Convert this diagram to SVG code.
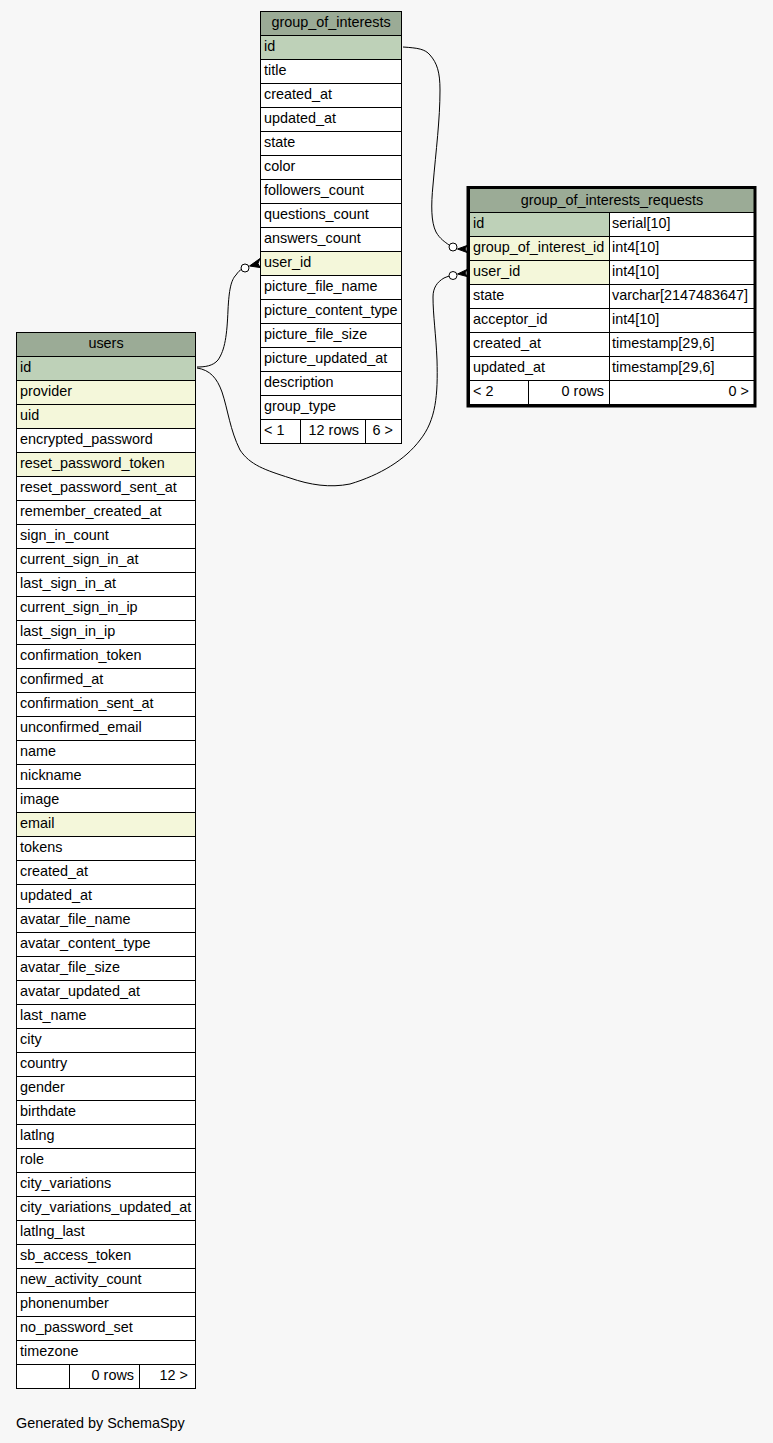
<svg xmlns="http://www.w3.org/2000/svg" width="773" height="1443" viewBox="0 0 773 1443">
<style>
text{font-family:"Liberation Sans",Arial,Helvetica,sans-serif;font-size:14.4px;fill:#000}
.t{text-anchor:middle}
.e{text-anchor:end}
.box{fill:#fff;stroke:#000;stroke-width:1}
.hd{fill:#9bab96}
.pk{fill:#bed1b8}
.fk{fill:#f4f7da}
.ln{fill:none;stroke:#000;stroke-width:1}
.edge{fill:none;stroke:#000;stroke-width:1}
.dot{fill:#fff;stroke:#000;stroke-width:1}
.crow{fill:#000;stroke:#000;stroke-width:1}
</style>
<rect width="773" height="1443" fill="#f7f7f7"/>

<g id="connectors">
<path class="edge" d="M403,47 C418,48 425,49 430,55 C437,63 440,72 440,90 C440,120 436,150 433,185 C431,205 431,222 436,232 C440,239 445,242 449,245"/>
<circle class="dot" cx="453" cy="247" r="4"/>
<polygon class="crow" points="457.5,249 467,245.5 465,249 467,252.5"/>
<path class="edge" d="M197,367 C205,367 213,366 218,360 C225,350 227,335 228,310 C229,290 231,280 236,275 C238,272 240,270 241.5,269.5"/>
<circle class="dot" cx="245" cy="268" r="4"/>
<polygon class="crow" points="249.5,266 260,258.5 258,263.5 260,267.5"/>
<path class="edge" d="M197,368 C210,370 217,378 222,392 C228,410 230,430 240,450 C250,465 265,470 290,478 C310,485 330,488 350,484 C380,475 405,460 420,440 C436,420 438,395 437,360 C436,335 433,315 433,297 C433,288 437,282 444,278 C446,277 448,276.5 449.5,276"/>
<circle class="dot" cx="453" cy="275.5" r="4"/>
<polygon class="crow" points="457.5,274 467,269.5 465,273 467,276.5"/>
</g>

<g id="group_of_interests">
<rect class="box" x="260.5" y="11.5" width="141" height="432"/>
<rect class="hd" x="261" y="12" width="140" height="23"/>
<rect class="pk" x="261" y="36" width="140" height="23"/>
<rect class="fk" x="261" y="252" width="140" height="23"/>
<path class="ln" d="M260.5 35.5H401.5M260.5 59.5H401.5M260.5 83.5H401.5M260.5 107.5H401.5M260.5 131.5H401.5M260.5 155.5H401.5M260.5 179.5H401.5M260.5 203.5H401.5M260.5 227.5H401.5M260.5 251.5H401.5M260.5 275.5H401.5M260.5 299.5H401.5M260.5 323.5H401.5M260.5 347.5H401.5M260.5 371.5H401.5M260.5 395.5H401.5M260.5 419.5H401.5M300.5 419.5V443.5M365.5 419.5V443.5"/>
<text class="t" x="331" y="27">group_of_interests</text>
<text x="264" y="50.5">id</text>
<text x="264" y="74.5">title</text>
<text x="264" y="98.5">created_at</text>
<text x="264" y="122.5">updated_at</text>
<text x="264" y="146.5">state</text>
<text x="264" y="170.5">color</text>
<text x="264" y="194.5">followers_count</text>
<text x="264" y="218.5">questions_count</text>
<text x="264" y="242.5">answers_count</text>
<text x="264" y="266.5">user_id</text>
<text x="264" y="290.5">picture_file_name</text>
<text x="264" y="314.5">picture_content_type</text>
<text x="264" y="338.5">picture_file_size</text>
<text x="264" y="362.5">picture_updated_at</text>
<text x="264" y="386.5">description</text>
<text x="264" y="410.5">group_type</text>
<text x="264" y="434.5">&lt; 1</text>
<text class="e" x="359" y="434.5">12 rows</text>
<text class="e" x="393" y="434.5">6 &gt;</text>
</g>

<g id="group_of_interests_requests">
<rect class="box" x="469.5" y="188.5" width="285" height="216"/>
<rect class="hd" x="470" y="189" width="284" height="23"/>
<rect class="pk" x="470" y="213" width="139" height="23"/>
<rect class="fk" x="470" y="237" width="139" height="23"/>
<rect class="fk" x="470" y="261" width="139" height="23"/>
<path class="ln" d="M469.5 212.5H754.5M469.5 236.5H754.5M469.5 260.5H754.5M469.5 284.5H754.5M469.5 308.5H754.5M469.5 332.5H754.5M469.5 356.5H754.5M469.5 380.5H754.5M609.5 212.5V404.5M528.5 380.5V404.5"/>
<rect x="468" y="187.5" width="287" height="218.5" fill="none" stroke="#000" stroke-width="3"/>
<text class="t" x="612" y="204.5">group_of_interests_requests</text>
<text x="473" y="227.5">id</text>
<text x="612" y="227.5">serial[10]</text>
<text x="473" y="251.5">group_of_interest_id</text>
<text x="612" y="251.5">int4[10]</text>
<text x="473" y="275.5">user_id</text>
<text x="612" y="275.5">int4[10]</text>
<text x="473" y="299.5">state</text>
<text x="612" y="299.5">varchar[2147483647]</text>
<text x="473" y="323.5">acceptor_id</text>
<text x="612" y="323.5">int4[10]</text>
<text x="473" y="347.5">created_at</text>
<text x="612" y="347.5">timestamp[29,6]</text>
<text x="473" y="371.5">updated_at</text>
<text x="612" y="371.5">timestamp[29,6]</text>
<text x="473" y="395.5">&lt; 2</text>
<text class="e" x="604" y="395.5">0 rows</text>
<text class="e" x="749" y="395.5">0 &gt;</text>
</g>

<g id="users">
<rect class="box" x="16.5" y="332.5" width="179" height="1056"/>
<rect class="hd" x="17" y="333" width="178" height="23"/>
<rect class="pk" x="17" y="357" width="178" height="23"/>
<rect class="fk" x="17" y="381" width="178" height="23"/>
<rect class="fk" x="17" y="405" width="178" height="23"/>
<rect class="fk" x="17" y="453" width="178" height="23"/>
<rect class="fk" x="17" y="813" width="178" height="23"/>
<path class="ln" d="M16.5 356.5H195.5M16.5 380.5H195.5M16.5 404.5H195.5M16.5 428.5H195.5M16.5 452.5H195.5M16.5 476.5H195.5M16.5 500.5H195.5M16.5 524.5H195.5M16.5 548.5H195.5M16.5 572.5H195.5M16.5 596.5H195.5M16.5 620.5H195.5M16.5 644.5H195.5M16.5 668.5H195.5M16.5 692.5H195.5M16.5 716.5H195.5M16.5 740.5H195.5M16.5 764.5H195.5M16.5 788.5H195.5M16.5 812.5H195.5M16.5 836.5H195.5M16.5 860.5H195.5M16.5 884.5H195.5M16.5 908.5H195.5M16.5 932.5H195.5M16.5 956.5H195.5M16.5 980.5H195.5M16.5 1004.5H195.5M16.5 1028.5H195.5M16.5 1052.5H195.5M16.5 1076.5H195.5M16.5 1100.5H195.5M16.5 1124.5H195.5M16.5 1148.5H195.5M16.5 1172.5H195.5M16.5 1196.5H195.5M16.5 1220.5H195.5M16.5 1244.5H195.5M16.5 1268.5H195.5M16.5 1292.5H195.5M16.5 1316.5H195.5M16.5 1340.5H195.5M16.5 1364.5H195.5M69.5 1364.5V1388.5M139.5 1364.5V1388.5"/>
<text class="t" x="106" y="348">users</text>
<text x="20" y="371.5">id</text>
<text x="20" y="395.5">provider</text>
<text x="20" y="419.5">uid</text>
<text x="20" y="443.5">encrypted_password</text>
<text x="20" y="467.5">reset_password_token</text>
<text x="20" y="491.5">reset_password_sent_at</text>
<text x="20" y="515.5">remember_created_at</text>
<text x="20" y="539.5">sign_in_count</text>
<text x="20" y="563.5">current_sign_in_at</text>
<text x="20" y="587.5">last_sign_in_at</text>
<text x="20" y="611.5">current_sign_in_ip</text>
<text x="20" y="635.5">last_sign_in_ip</text>
<text x="20" y="659.5">confirmation_token</text>
<text x="20" y="683.5">confirmed_at</text>
<text x="20" y="707.5">confirmation_sent_at</text>
<text x="20" y="731.5">unconfirmed_email</text>
<text x="20" y="755.5">name</text>
<text x="20" y="779.5">nickname</text>
<text x="20" y="803.5">image</text>
<text x="20" y="827.5">email</text>
<text x="20" y="851.5">tokens</text>
<text x="20" y="875.5">created_at</text>
<text x="20" y="899.5">updated_at</text>
<text x="20" y="923.5">avatar_file_name</text>
<text x="20" y="947.5">avatar_content_type</text>
<text x="20" y="971.5">avatar_file_size</text>
<text x="20" y="995.5">avatar_updated_at</text>
<text x="20" y="1019.5">last_name</text>
<text x="20" y="1043.5">city</text>
<text x="20" y="1067.5">country</text>
<text x="20" y="1091.5">gender</text>
<text x="20" y="1115.5">birthdate</text>
<text x="20" y="1139.5">latlng</text>
<text x="20" y="1163.5">role</text>
<text x="20" y="1187.5">city_variations</text>
<text x="20" y="1211.5">city_variations_updated_at</text>
<text x="20" y="1235.5">latlng_last</text>
<text x="20" y="1259.5">sb_access_token</text>
<text x="20" y="1283.5">new_activity_count</text>
<text x="20" y="1307.5">phonenumber</text>
<text x="20" y="1331.5">no_password_set</text>
<text x="20" y="1355.5">timezone</text>
<text class="e" x="134" y="1379.5">0 rows</text>
<text class="e" x="188" y="1379.5">12 &gt;</text>
</g>

<text x="16" y="1428">Generated by SchemaSpy</text>
</svg>
